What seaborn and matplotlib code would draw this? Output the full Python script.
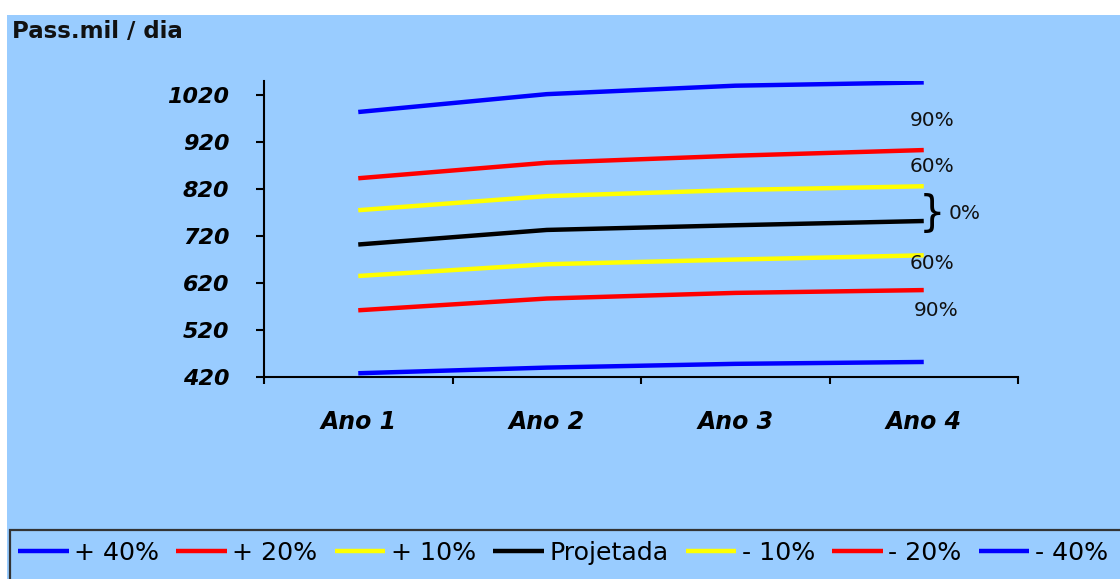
import matplotlib
matplotlib.use("Agg")
import matplotlib.pyplot as plt
from matplotlib.patches import Rectangle
import pandas as pd
import seaborn as sns

# Demanda de passageiros (mil / dia) por cenário
anos = ["Ano 1", "Ano 2", "Ano 3", "Ano 4"]
mais40 = [984, 1022, 1040, 1047]
mais20 = [843, 876, 891, 903]
mais10 = [775, 805, 818, 826]
projetada = [702, 733, 743, 752]
menos10 = [635, 660, 670, 679]
menos20 = [562, 587, 599, 605]
menos40 = [428, 440, 448, 452]

cenarios = ["+ 40%", "+ 20%", "+ 10%", "Projetada", "- 10%", "- 20%", "- 40%"]
series = [mais40, mais20, mais10, projetada, menos10, menos20, menos40]
cores = {"+ 40%": "#0000FF", "+ 20%": "#FF0000", "+ 10%": "#FFFF00",
         "Projetada": "#000000", "- 10%": "#FFFF00", "- 20%": "#FF0000",
         "- 40%": "#0000FF"}

y_ticks = [420, 520, 620, 720, 820, 920, 1020]

# Rótulos de probabilidade ao lado das curvas
prob_textos = ["90%", "60%", "60%", "90%"]
prob_y = [965, 867, 662, 561]
prob_x = [3.042, 3.042, 3.042, 3.064]

df = pd.DataFrame(
    [(i, v, c) for c, vals in zip(cenarios, series) for i, v in enumerate(vals)],
    columns=["ano", "valor", "cenario"],
)

sns.set_theme(style="white")
plt.rcParams["font.family"] = ["DejaVu Sans"]
plt.rcParams["text.color"] = "black"

W, H = 1120, 579
fig = plt.figure(figsize=(W / 100, H / 100), dpi=100, facecolor="white")

bg = "#99CCFF"
fig.patches.append(Rectangle((7 / W, 0), 1, 1 - 15 / H, transform=fig.transFigure,
                             facecolor=bg, edgecolor="none", zorder=-10))

ax = fig.add_axes([264 / W, 1 - 377 / H, (1018 - 264) / W, (377 - 81) / H])
ax.set_facecolor("none")

sns.lineplot(data=df, x="ano", y="valor", hue="cenario", hue_order=cenarios,
             palette=cores, linewidth=3.2, sort=False, ax=ax, legend=True,
             solid_capstyle="butt")
handles, labels = ax.get_legend_handles_labels()
ax.get_legend().remove()

ax.set_xlim(-0.5, 3.5)
ax.set_ylim(420, 1050)
ax.set_xlabel("")
ax.set_ylabel("")

for s in ["top", "right"]:
    ax.spines[s].set_visible(False)
for s in ["left", "bottom"]:
    ax.spines[s].set_color("black")
    ax.spines[s].set_linewidth(1.5)

ax.set_yticks(y_ticks)
ax.set_yticklabels([str(v) for v in y_ticks], fontsize=16, fontweight="bold",
                   fontstyle="italic", color="black")
ax.tick_params(axis="y", direction="out", length=6, width=1.5, pad=19,
               color="black", left=True, labelcolor="black")

ax.set_xticks([-0.5, 0.5, 1.5, 2.5, 3.5])
ax.set_xticklabels([])
ax.set_xticks(range(len(anos)), minor=True)
ax.set_xticklabels(anos, minor=True, fontsize=17, fontweight="bold",
                   fontstyle="italic", color="black")
ax.tick_params(axis="x", which="major", direction="out", length=5, width=1.5,
               color="black", bottom=True)
ax.tick_params(axis="x", which="minor", length=0, pad=24, bottom=True,
               labelcolor="black")
ax.grid(False)

for t, x, y in zip(prob_textos, prob_x, prob_y):
    ax.text(x, y, t, fontsize=14.5, ha="center", va="center", color="#111111")
ax.text(2.972, 767, "}", fontsize=30, ha="left", va="center", color="black")
ax.text(3.218, 769, "0%", fontsize=14.5, ha="center", va="center", color="#111111")

fig.text(12 / W, 1 - 38 / H, "Pass.mil / dia", fontsize=16.5, fontweight="bold",
         ha="left", va="baseline", color="#111111")

# Caixa da legenda
fig.patches.append(Rectangle((10 / W, -0.2), 1.2, 0.2 + (579 - 530) / H,
                             transform=fig.transFigure, facecolor="none",
                             edgecolor="#333333", linewidth=1.6, zorder=-5))
fig.legend(handles, labels, loc="center left",
           bbox_to_anchor=(18 / W, 1 - 553 / H), ncol=7, frameon=False,
           fontsize=18.2, handlelength=2.0, handletextpad=0.22,
           columnspacing=0.68, borderpad=0, borderaxespad=0)

fig.savefig("out.png", dpi=100, facecolor="white")
